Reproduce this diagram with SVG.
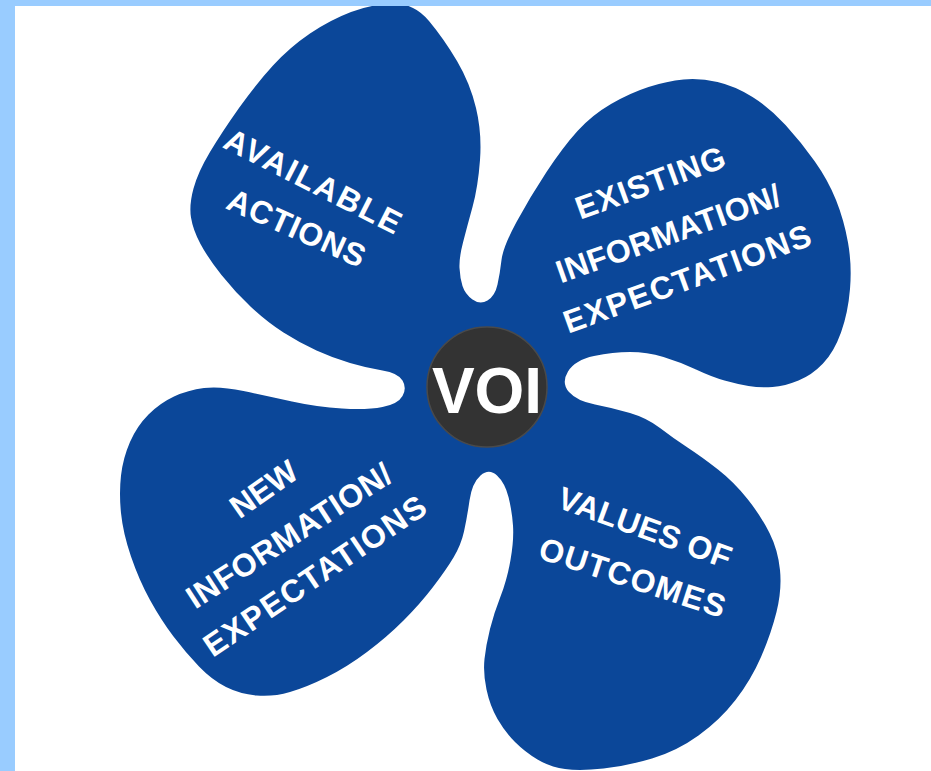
<svg xmlns="http://www.w3.org/2000/svg" width="931" height="771" viewBox="0 0 931 771">
  <style>
    .blade { fill: #0B4799; }
    .hub { fill: #333333; stroke: #4a4a4a; stroke-width: 1.5; }
    .lbl { font-family: "Liberation Sans", Arial, sans-serif; font-weight: bold; font-size: 32px; fill: #ffffff; text-anchor: middle; }
    .hub-text { font-family: "Liberation Sans", Arial, sans-serif; font-weight: bold; font-size: 64px; fill: #ffffff; text-anchor: middle; }
    .frame { fill: #99CCFF; }
  </style>

  <rect x="0" y="0" width="931" height="771" fill="#ffffff"/>

  <!-- four-bladed propeller -->
  <g id="propeller">
    <path class="blade" d="M472.5,299.5 Q480,305 487.5,300.5 Q495,296 497.5,284.5 Q500,273 501.5,260 Q503,247 516.5,222 Q530,197 546.5,172 Q563,147 577.5,131 Q592,115 611,104 Q630,93 648.5,87 Q667,81 683.5,79.5 Q700,78 717.5,82 Q735,86 752.5,97 Q770,108 785.5,125 Q801,142 814.5,161 Q828,180 836,200 Q844,220 848,242.5 Q852,265 850,289 Q848,313 841,332.5 Q834,352 823,363.5 Q812,375 798.5,380.5 Q785,386 772.5,387 Q760,388 748.5,386 Q737,384 724.5,380.5 Q712,377 696,369.5 Q680,362 663.5,357 Q647,352 630,352 Q613,352 594,356 Q575,360 568,371.5 Q561,383 569,392 Q577,401 595,404.5 Q613,408 630,413 Q647,418 660,428 Q673,438 687.5,447.5 Q702,457 718,469.5 Q734,482 747.5,499 Q761,516 769.5,533 Q778,550 780,570 Q782,590 776.5,612 Q771,634 761,657 Q751,680 735.5,700 Q720,720 698.5,735.5 Q677,751 652,758.5 Q627,766 603.5,768.5 Q580,771 565,769 Q550,767 537.5,759.5 Q525,752 515,742 Q505,732 497.5,719 Q490,706 486.5,689.5 Q483,673 484.5,659 Q486,645 490,629 Q494,613 500.5,596.5 Q507,580 510.5,560 Q514,540 513,525.5 Q512,511 508.5,497 Q505,483 497,475.5 Q489,468 480.5,475.5 Q472,483 469.5,500.5 Q467,518 464,531.5 Q461,545 453.5,557.5 Q446,570 433,587 Q420,604 403.5,620.5 Q387,637 367,652 Q347,667 327,677 Q307,687 290,692 Q273,697 256.5,695.5 Q240,694 226,687 Q212,680 199,666.5 Q186,653 173.5,636.5 Q161,620 150,600 Q139,580 131,556.5 Q123,533 121,513 Q119,493 121,475.5 Q123,458 130,442 Q137,426 148.5,414.5 Q160,403 174,396.5 Q188,390 204,388 Q220,386 243.5,391 Q267,396 292,401.5 Q317,407 342,408.5 Q367,410 382.5,407 Q398,404 402.5,396 Q407,388 402.5,380.5 Q398,373 382.5,370.5 Q367,368 350,363 Q333,358 316.5,350.5 Q300,343 283.5,332.5 Q267,322 251,307 Q235,292 221.5,275 Q208,258 200.5,244 Q193,230 191,217.5 Q189,205 193.5,188.5 Q198,172 210,152 Q222,132 239,108 Q256,84 273,65.5 Q290,47 310,33.5 Q330,20 351,12 Q372,4 393,3.5 Q414,3 429,21 Q444,39 457,61 Q470,83 476,108 Q482,133 480,160 Q478,187 472.5,207 Q467,227 463,242.5 Q459,258 459.5,268 Q460,278 462.5,286 Q465,294 472.5,299.5 Z"/>
  </g>

  <!-- blade labels -->
  <g id="available-actions">
    <text class="lbl" transform="translate(308,191) rotate(27)" textLength="194" lengthAdjust="spacing">AVAILABLE</text>
    <text class="lbl" transform="translate(292,238) rotate(24)" textLength="148" lengthAdjust="spacing">ACTIONS</text>
  </g>

  <g id="existing-information">
    <text class="lbl" transform="translate(654,193) rotate(-20)" textLength="157" lengthAdjust="spacing">EXISTING</text>
    <text class="lbl" transform="translate(672,244) rotate(-19.5)" textLength="236" lengthAdjust="spacing">INFORMATION/</text>
    <text class="lbl" transform="translate(691,289) rotate(-20)" textLength="261" lengthAdjust="spacing">EXPECTATIONS</text>
  </g>

  <g id="new-information">
    <text class="lbl" transform="translate(270,498) rotate(-35)">NEW</text>
    <text class="lbl" transform="translate(295,545) rotate(-33)" textLength="238" lengthAdjust="spacing">INFORMATION/</text>
    <text class="lbl" transform="translate(321,585) rotate(-34)" textLength="261" lengthAdjust="spacing">EXPECTATIONS</text>
  </g>

  <g id="values-of-outcomes">
    <text class="lbl" transform="translate(641,538) rotate(20)" textLength="182" lengthAdjust="spacing">VALUES OF</text>
    <text class="lbl" transform="translate(629,588) rotate(18)" textLength="194" lengthAdjust="spacing">OUTCOMES</text>
  </g>

  <!-- hub -->
  <g id="voi">
    <circle class="hub" cx="487" cy="387" r="60"/>
    <text class="hub-text" x="487" y="413">VOI</text>
  </g>

  <!-- frame edges -->
  <rect class="frame" x="0" y="0" width="931" height="6"/>
  <rect class="frame" x="0" y="0" width="15" height="771"/>
</svg>
